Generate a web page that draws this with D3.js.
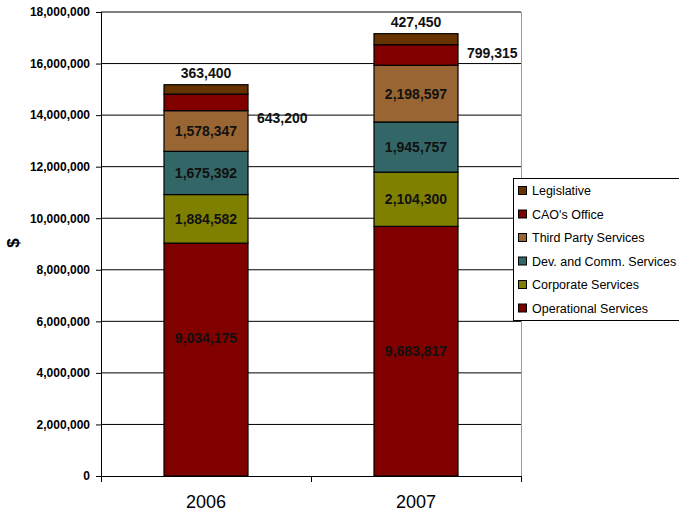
<!DOCTYPE html>
<html><head><meta charset="utf-8">
<script src="https://cdn.jsdelivr.net/npm/d3@7"></script>
<style>body{margin:0;background:#fff}svg{display:block;font-family:Arial,"Liberation Sans",sans-serif}</style>
</head><body><svg id="c" width="679" height="513"></svg>
<script>
const years = ["2006", "2007"];
const seriesNames = ["Operational Services", "Corporate Services", "Dev. and Comm. Services", "Third Party Services", "CAO's Office", "Legislative"];
const seriesColors = ["#800000", "#808000", "#336666", "#996633", "#800000", "#663300"];
const operational = [9034175, 9683817];
const corporate = [1884582, 2104300];
const devComm = [1675392, 1945757];
const thirdParty = [1578347, 2198597];
const caoOffice = [643200, 799315];
const legislative = [363400, 427450];
const yTicks = [0, 2000000, 4000000, 6000000, 8000000, 10000000, 12000000, 14000000, 16000000, 18000000];

const seriesValues = [operational, corporate, devComm, thirdParty, caoOffice, legislative];
const caoLabelDy = [16, -2];
const opLabelDy = [-22, 0];

const svg = d3.select("#c");
const L = 101, R = 521, T = 12, B = 476;
const x = d3.scaleBand().domain(years).range([L, R]).paddingInner(0).paddingOuter(0);
const y = d3.scaleLinear().domain([0, 18000000]).range([B, T]);
const barW = x.bandwidth() * 0.4;
const fmt = d3.format(",");

// gridlines
svg.append("g").selectAll("line").data(yTicks.filter(d => d > 0)).join("line")
  .attr("x1", L).attr("x2", R).attr("y1", d => y(d)).attr("y2", d => y(d))
  .attr("stroke", "#000").attr("stroke-width", 1);
// right border
svg.append("line").attr("x1", R + 0.5).attr("x2", R + 0.5).attr("y1", T).attr("y2", B)
  .attr("stroke", "#999");

// stack
const table = years.map((yr, i) => {
  const o = { year: yr };
  seriesNames.forEach((s, k) => o[s] = seriesValues[k][i]);
  return o;
});
const stack = d3.stack().keys(seriesNames)(table);

const gBars = svg.append("g");
stack.forEach((layer, k) => {
  gBars.selectAll(null).data(layer).join("rect")
    .attr("x", d => x(d.data.year) + (x.bandwidth() - barW) / 2)
    .attr("y", d => y(d[1]))
    .attr("width", barW)
    .attr("height", d => y(d[0]) - y(d[1]))
    .attr("fill", seriesColors[k])
    .attr("stroke", "#000").attr("stroke-width", 1.2);
});

// labels
const gLab = svg.append("g").attr("font-weight", "bold").attr("fill", "#111");
stack.forEach((layer, k) => {
  layer.forEach((d, i) => {
    const cx = x(d.data.year) + x.bandwidth() / 2;
    const v = d[1] - d[0];
    let tx = cx, ty = (y(d[0]) + y(d[1])) / 2, anchor = "middle";
    if (k === 5) { ty = y(d[1]) - 11.5; }
    else if (k === 4) { tx = cx + barW / 2 + 9; anchor = "start"; ty = ty + caoLabelDy[i]; }
    else if (k === 0) { ty = ty + opLabelDy[i]; }
    gLab.append("text").attr("x", tx).attr("y", ty).attr("dy", "0.36em")
      .attr("text-anchor", anchor).attr("font-size", 14).text(fmt(v));
  });
});

// y axis
const yAxis = svg.append("g").attr("transform", `translate(${L},0)`)
  .call(d3.axisLeft(y).tickValues(yTicks).tickSize(5).tickPadding(6).tickFormat(fmt));
yAxis.select(".domain").attr("stroke", "#000").attr("d", `M0.5,${T}V${B}`);
yAxis.selectAll(".tick line").attr("stroke", "#000");
yAxis.selectAll("text").attr("font-size", 12).attr("font-weight", "bold").attr("fill", "#000")
  .attr("font-family", "Arial, 'Liberation Sans', sans-serif");

// x axis
const xAxis = svg.append("g").attr("transform", `translate(0,${B})`)
  .call(d3.axisBottom(x).tickSize(0).tickPadding(19));
xAxis.select(".domain").remove();
xAxis.append("line").attr("x1", L).attr("x2", R + 1).attr("y1", 0.5).attr("y2", 0.5).attr("stroke", "#000");
xAxis.selectAll(null).data([L, (L + R) / 2, R]).join("line")
  .attr("x1", d => Math.round(d) + 0.5).attr("x2", d => Math.round(d) + 0.5)
  .attr("y1", 0).attr("y2", 6).attr("stroke", "#000");
xAxis.selectAll(".tick text").attr("font-size", 18).attr("fill", "#000")
  .attr("font-family", "Arial, 'Liberation Sans', sans-serif");

// y title
svg.append("text").attr("transform", "translate(19,243) rotate(-90)")
  .attr("text-anchor", "middle").attr("font-size", 17).attr("font-weight", "bold").text("$");

// legend
const lg = svg.append("g");
lg.append("rect").attr("x", 513.5).attr("y", 178.5).attr("width", 170).attr("height", 142)
  .attr("fill", "#fff").attr("stroke", "#000");
const legendOrder = [5, 4, 3, 2, 1, 0];
legendOrder.forEach((k, j) => {
  const cy = 191 + j * 23.5;
  lg.append("rect").attr("x", 518.5).attr("y", cy - 4.5).attr("width", 8).attr("height", 8)
    .attr("fill", seriesColors[k]).attr("stroke", "#000");
  lg.append("text").attr("x", 532).attr("y", cy).attr("dy", "0.35em")
    .attr("font-size", 12.5).text(seriesNames[k]);
});
</script></body></html>
